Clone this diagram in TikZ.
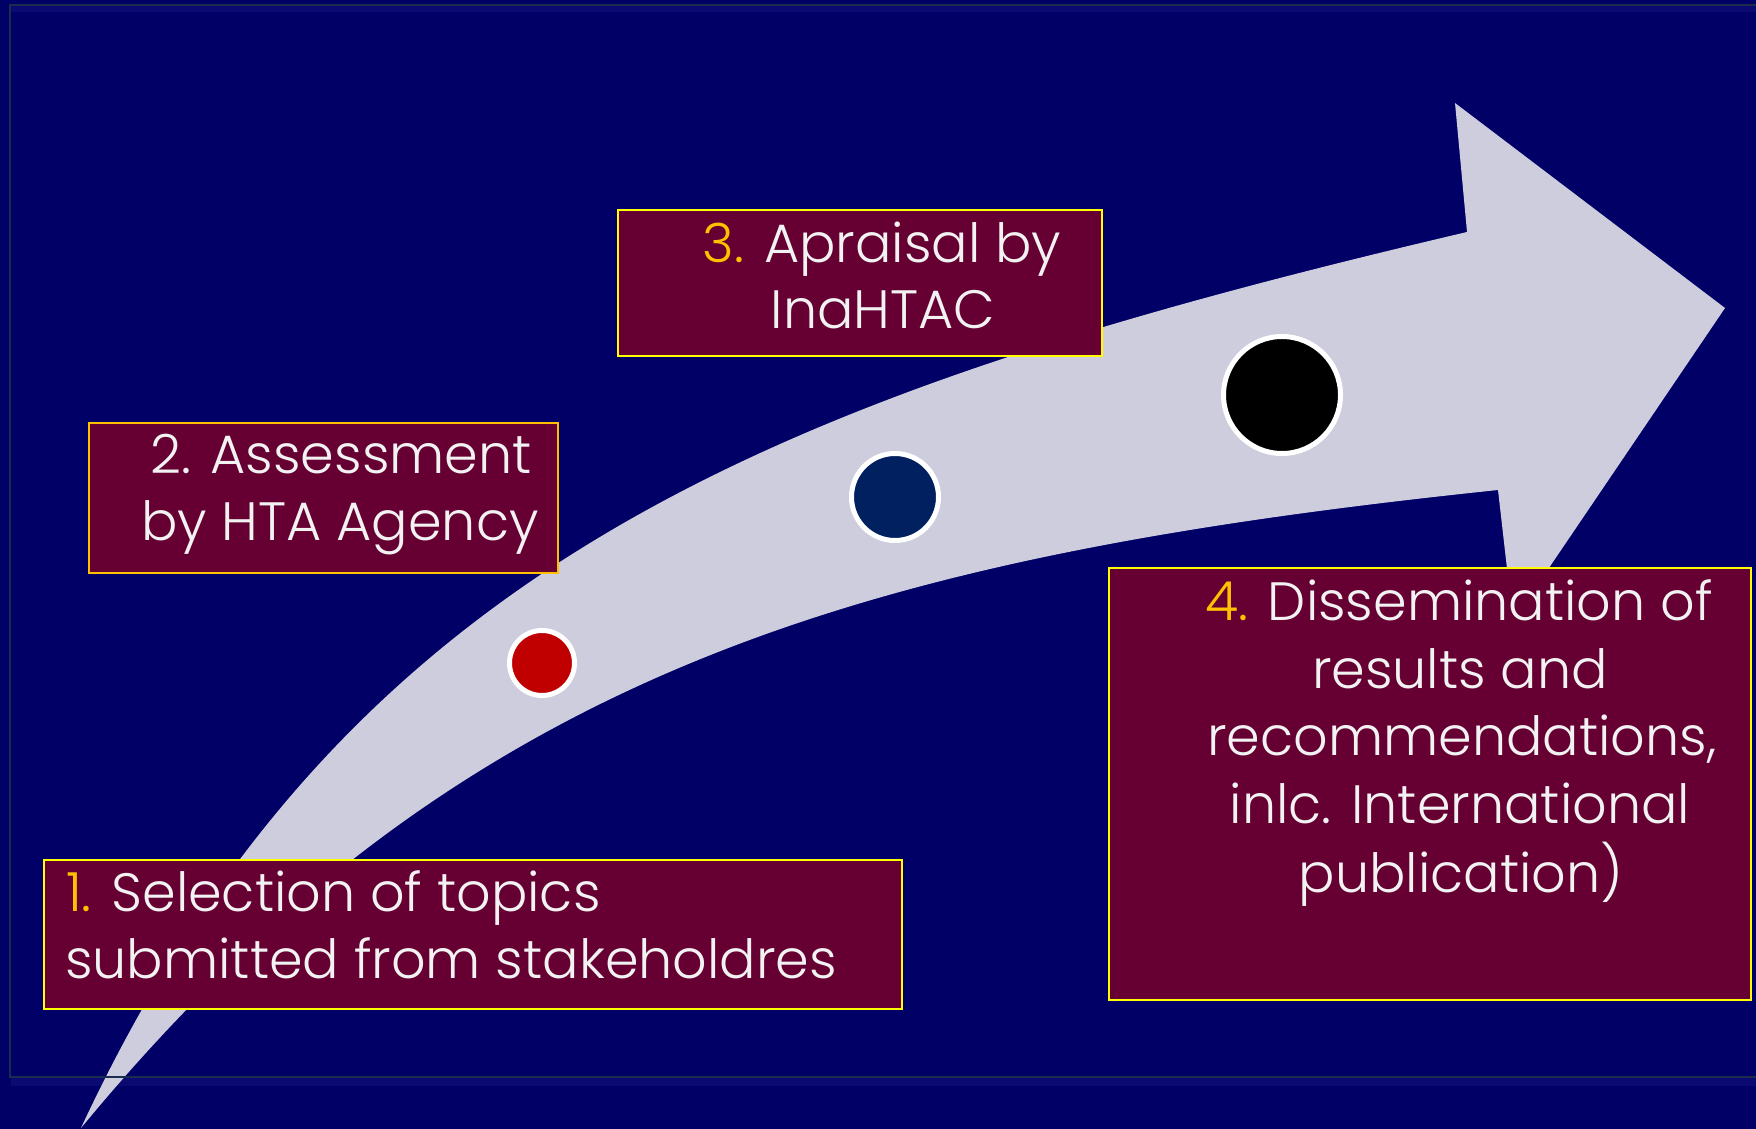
\documentclass[tikz,border=0pt]{standalone}
\usepackage{fontspec}
\setmainfont{Poppins Light}
\definecolor{bg}{HTML}{000066}
\definecolor{boxfill}{HTML}{660033}
\definecolor{arrowc}{HTML}{CDCDDE}
\definecolor{gold}{HTML}{FFC000}
\definecolor{txt}{HTML}{F2F2F2}
\definecolor{framec}{HTML}{1B2D4D}
\definecolor{shadowc}{HTML}{0A0A72}
\definecolor{navydot}{HTML}{002060}
\definecolor{reddot}{HTML}{C00000}
\definecolor{yel}{HTML}{FFFF00}
\begin{document}
\begin{tikzpicture}[x=1pt,y=-1pt,
  stepbox/.style={draw=yel, line width=2pt, fill=boxfill, rectangle, inner sep=0pt, anchor=north west},
  txtline/.style={text=txt, inner sep=0pt, font=\fontsize{54}{67}\selectfont, anchor=base},
  dot/.style={circle, draw=white, line width=5pt, inner sep=0pt}]
% background
\fill[bg] (0,0) rectangle (1756,1129);
\useasboundingbox (0,0) rectangle (1756,1129);
% frame shadow
\fill[shadowc] (11,1078) rectangle (1756,1086);
\fill[shadowc] (11,6) rectangle (1756,12);
% arrow
\fill[arrowc] (81,1128) .. controls (344,564) and (773,395) .. (1467,232)
  -- (1455,103) -- (1725,308) -- (1513,621) -- (1498,490)
  .. controls (858,557) and (457,672) .. (81,1128) -- cycle;
% frame lines
\draw[framec, line width=2pt] (1756,5) -- (10,5) -- (10,1077) -- (1756,1077);
% dots
\node[dot, fill=reddot, minimum size=65pt] (c1) at (542,663) {};
\node[dot, fill=navydot, minimum size=87pt] (c2) at (895,497) {};
\node[dot, fill=black, minimum size=117pt] (c3) at (1282,395) {};
% boxes
\node[stepbox, minimum width=858pt, minimum height=149pt] (b1) at (43,859) {};
\node[stepbox, draw=gold, minimum width=469pt, minimum height=150pt] (b2) at (88,422) {};
\node[stepbox, minimum width=484pt, minimum height=146pt] (b3) at (617,209) {};
\node[stepbox, minimum width=642pt, minimum height=432pt] (b4) at (1108,567) {};
% texts box 1
\node[txtline, anchor=base west] (t1a) at (66,911) {{\color{gold}1.} Selection of topics};
\node[txtline, anchor=base west] (t1b) at (65,978) {submitted from stakeholdres};
% box 2
\node[txtline] (t2a) at (341,473) {2. Assessment};
\node[txtline] (t2b) at (340,540) {by HTA Agency};
% box 3
\node[txtline] (t3a) at (882,262) {{\color{gold}3.} Apraisal by};
\node[txtline] (t3b) at (883,328) {InaHTAC};
% box 4
\node[txtline] (t4a) at (1459,620) {{\color{gold}4.} Dissemination of};
\node[txtline] (t4b) at (1460,688) {results and};
\node[txtline] (t4c) at (1462,755) {recommendations,};
\node[txtline] (t4d) at (1460,823) {inlc. International};
\node[txtline] (t4e) at (1461,892) {publication)};
\end{tikzpicture}
\end{document}
